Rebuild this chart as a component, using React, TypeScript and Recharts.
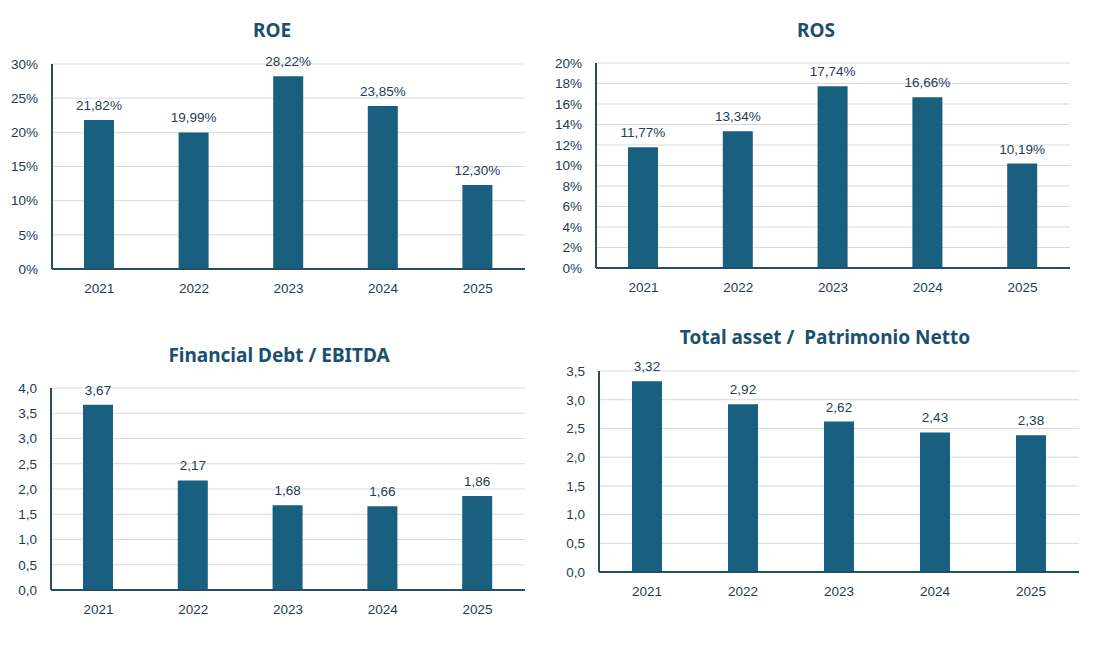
import React from "react";
import { BarChart, Bar, XAxis, YAxis, CartesianGrid, LabelList } from "recharts";

const years = ["2021", "2022", "2023", "2024", "2025"];
const roeValues = [21.82, 19.99, 28.22, 23.85, 12.3];
const rosValues = [11.77, 13.34, 17.74, 16.66, 10.19];
const debtValues = [3.67, 2.17, 1.68, 1.66, 1.86];
const assetValues = [3.32, 2.92, 2.62, 2.43, 2.38];

const roeTicks = [0, 5, 10, 15, 20, 25, 30];
const rosTicks = [0, 2, 4, 6, 8, 10, 12, 14, 16, 18, 20];
const debtTicks = [0, 0.5, 1, 1.5, 2, 2.5, 3, 3.5, 4];
const assetTicks = [0, 0.5, 1, 1.5, 2, 2.5, 3, 3.5];

const BAR = "#185f80";
const AXIS = "#264d66";
const TEXT = "#1f3b55";
const TITLE = "#1b4f6e";
const FONT = "'Liberation Sans', Arial, sans-serif";

const comma = (v: number, d: number) => v.toFixed(d).replace(".", ",");

interface PanelProps {
    title: string;
    titleX: number;
    titleY: number;
    x0: number;
    x1: number;
    y0: number;
    y1: number;
    values: number[];
    ticks: number[];
    tickFmt: (v: number) => string;
    labelFmt: (v: number) => string;
}

const Panel = ({ title, titleX, titleY, x0, x1, y0, y1, values, ticks, tickFmt, labelFmt }: PanelProps) => {
    const data = years.map((year, i) => ({ year, value: values[i] }));
    const padL = 60;
    const padT = 30;
    const width = x1 - x0 + padL + 20;
    const height = y1 - y0 + padT + 40;
    return (
        <>
            <div
                style={{
                    position: "absolute",
                    left: titleX - 200,
                    width: 400,
                    top: titleY - 14,
                    textAlign: "center",
                    fontFamily: "'Noto Sans', sans-serif",
                    fontWeight: 700,
                    fontSize: 19,
                    lineHeight: "28px",
                    color: TITLE,
                    whiteSpace: "pre",
                }}
            >
                {title}
            </div>
            <div style={{ position: "absolute", left: x0 - padL, top: y0 - padT }}>
                <BarChart
                    width={width}
                    height={height}
                    data={data}
                    margin={{ top: padT, right: 20, left: padL - 50, bottom: 0 }}
                >
                    <CartesianGrid vertical={false} stroke="#d9d9d9" />
                    <XAxis
                        dataKey="year"
                        height={40}
                        tickLine={false}
                        axisLine={{ stroke: AXIS, strokeWidth: 2 }}
                        tick={{ fill: TEXT, fontSize: 13.5, fontFamily: FONT }}
                        tickMargin={8}
                    />
                    <YAxis
                        width={50}
                        domain={[ticks[0], ticks[ticks.length - 1]]}
                        ticks={ticks}
                        interval={0}
                        tickFormatter={tickFmt}
                        tickLine={false}
                        axisLine={{ stroke: AXIS, strokeWidth: 2 }}
                        tick={{ fill: TEXT, fontSize: 13.5, fontFamily: FONT }}
                        tickMargin={8}
                    />
                    <Bar dataKey="value" fill={BAR} barSize={30} isAnimationActive={false}>
                        <LabelList
                            dataKey="value"
                            position="top"
                            offset={10}
                            formatter={(v: any) => labelFmt(Number(v))}
                            style={{ fill: TEXT, fontSize: 13.5, fontFamily: FONT }}
                        />
                    </Bar>
                </BarChart>
            </div>
        </>
    );
};

export default function App() {
    return (
        <div style={{ position: "absolute", left: 0, top: 0, width: 1100, height: 646, background: "#fff" }}>
            <Panel
                title="ROE"
                titleX={272}
                titleY={30}
                x0={52}
                x1={525}
                y0={64}
                y1={269}
                values={roeValues}
                ticks={roeTicks}
                tickFmt={(v) => `${v}%`}
                labelFmt={(v) => `${comma(v, 2)}%`}
            />
            <Panel
                title="ROS"
                titleX={816}
                titleY={30}
                x0={596}
                x1={1070}
                y0={63}
                y1={268}
                values={rosValues}
                ticks={rosTicks}
                tickFmt={(v) => `${v}%`}
                labelFmt={(v) => `${comma(v, 2)}%`}
            />
            <Panel
                title="Financial Debt / EBITDA"
                titleX={279}
                titleY={355}
                x0={51}
                x1={525}
                y0={388}
                y1={590}
                values={debtValues}
                ticks={debtTicks}
                tickFmt={(v) => comma(v, 1)}
                labelFmt={(v) => comma(v, 2)}
            />
            <Panel
                title="Total asset /  Patrimonio Netto"
                titleX={825}
                titleY={337}
                x0={599}
                x1={1079}
                y0={371}
                y1={572}
                values={assetValues}
                ticks={assetTicks}
                tickFmt={(v) => comma(v, 1)}
                labelFmt={(v) => comma(v, 2)}
            />
        </div>
    );
}
